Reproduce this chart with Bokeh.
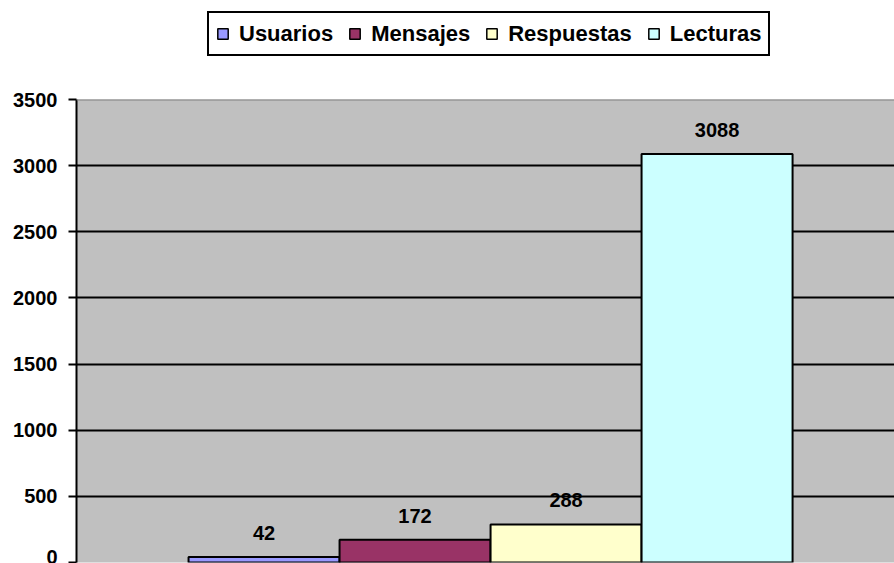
from bokeh.plotting import figure
from bokeh.layouts import column
from bokeh.models import (ColumnDataSource, Range1d, FixedTicker, LabelSet, Legend,
                          LegendItem, Span)
from bokeh.core.properties import value
from bokeh.embed import file_html
from bokeh.resources import INLINE

# ---- data ----
series = ["Usuarios", "Mensajes", "Respuestas", "Lecturas"]
values = [42, 172, 288, 3088]
colors = ["#9999FF", "#993366", "#FFFFCC", "#CCFFFF"]
y_ticks = [0, 500, 1000, 1500, 2000, 2500, 3000, 3500]

FONT = "Liberation Sans"

src = ColumnDataSource(dict(
    x=list(range(len(series))),
    top=values,
    name=series,
    color=colors,
    label=[str(v) for v in values],
))

# ---- legend strip (top) ----
lg = figure(width=894, height=79, output_backend="svg", toolbar_location=None,
            x_range=Range1d(0, 1), y_range=Range1d(0, 1),
            min_border=0)
lg.axis.visible = False
lg.grid.visible = False
lg.outline_line_color = None
lg.background_fill_color = "white"
lg.border_fill_color = "white"

proxy = lg.vbar(x="x", top="top", width=1, source=src, fill_color="color",
                line_color="black", line_width=1.5, visible=False)
items = [LegendItem(label=n, renderers=[proxy], index=i) for i, n in enumerate(series)]

legend = Legend(items=items, orientation="horizontal", location=(131, 23),
                glyph_width=13, glyph_height=13, label_standoff=10, spacing=15,
                padding=7, label_height=27,
                label_text_font=FONT, label_text_font_style="bold",
                label_text_font_size="22px", label_text_color="black",
                border_line_color="black", border_line_width=2,
                border_line_alpha=1.0,
                background_fill_color="white", background_fill_alpha=1.0,
                inactive_fill_alpha=0.0, click_policy="none",
                margin=0)
lg.add_layout(legend, "center")

# ---- main chart ----
p = figure(width=894, height=484, output_backend="svg", toolbar_location=None,
           x_range=Range1d(-1.242, 4.175), y_range=Range1d(0, 3500),
           min_border_left=76, min_border_right=0, min_border_top=20,
           min_border_bottom=1)
p.background_fill_color = "#C0C0C0"
p.border_fill_color = "white"
p.outline_line_color = None

p.xaxis.visible = False
p.xgrid.visible = False

yax = p.yaxis[0]
yax.ticker = FixedTicker(ticks=y_ticks)
yax.axis_line_color = "black"
yax.axis_line_width = 2
yax.major_tick_line_color = "black"
yax.major_tick_line_width = 2
yax.major_tick_in = 0
yax.major_tick_out = 8
yax.minor_tick_line_color = None
yax.major_label_text_font = FONT
yax.major_label_text_font_style = "bold"
yax.major_label_text_font_size = "20px"
yax.major_label_text_color = "black"
yax.major_label_standoff = 11

p.ygrid.ticker = FixedTicker(ticks=y_ticks[1:-1])
p.ygrid.grid_line_color = "black"
p.ygrid.grid_line_width = 2

p.add_layout(Span(location=y_ticks[-1], dimension="width",
                  line_color="#808080", line_width=2))

bars = p.vbar(x="x", top="top", width=1.0, bottom=0, source=src,
              fill_color="color", line_color="black", line_width=2)

labels = LabelSet(x="x", y="top", text="label", source=src,
                  text_align="center", text_baseline="middle", y_offset=24,
                  text_font=value(FONT), text_font_style=value("bold"),
                  text_font_size=value("20px"), text_color=value("black"))
p.add_layout(labels)

page = column(lg, p, spacing=0)
open("out.html", "w").write(file_html(page, INLINE))
